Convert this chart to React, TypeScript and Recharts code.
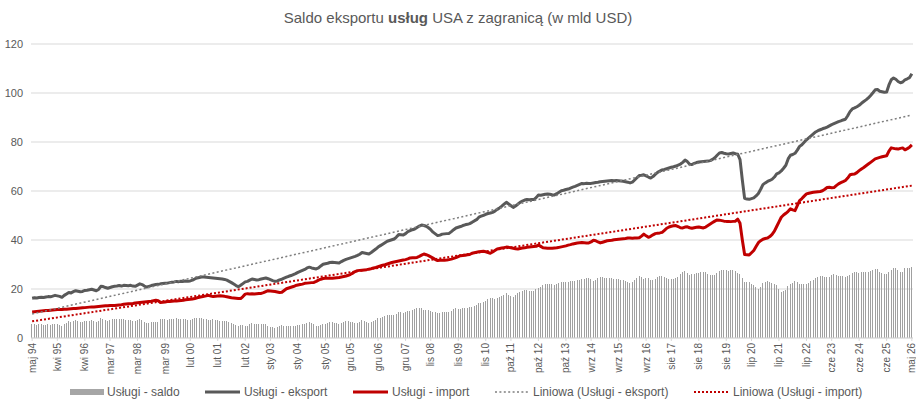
import React from 'react';
import { ComposedChart, Bar, Line, XAxis, YAxis, CartesianGrid } from 'recharts';

// Monthly values, May 1994 .. May 2026, one row = 12 months starting in May
const EXPORT = [
  16.2, 16.4, 16.3, 16.5, 16.6, 16.5, 16.7, 16.9, 16.8, 17.1, 17.4, 17.2,
  17.0, 16.6, 17.4, 18.0, 18.6, 18.4, 18.9, 19.3, 19.1, 18.9, 19.0, 19.4,
  19.5, 19.7, 19.9, 19.6, 19.3, 19.8, 21.1, 21.0, 20.6, 20.3, 20.6, 20.9,
  21.1, 21.2, 21.4, 21.2, 21.5, 21.4, 21.3, 21.5, 21.2, 21.1, 21.6, 22.1,
  21.8, 21.2, 20.8, 21.1, 21.4, 21.6, 21.8, 21.9, 22.1, 22.2, 22.3, 22.4,
  22.6, 22.8, 22.9, 23.1, 23.0, 23.2, 23.1, 23.3, 23.2, 23.3, 23.6, 24.1,
  24.5, 24.7, 24.9, 24.9, 24.8, 24.7, 24.6, 24.5, 24.4, 24.3, 24.2, 24.1,
  23.9, 23.6, 23.1, 22.6, 22.0, 21.4, 20.9, 21.5, 22.2, 22.9, 23.1, 23.6,
  24.1, 23.9, 23.7, 23.8, 24.1, 24.3, 24.5, 24.2, 23.8, 23.4, 23.1, 23.3,
  23.7, 24.0, 24.4, 24.8, 25.2, 25.5, 25.9, 26.3, 26.8, 27.2, 27.6, 28.0,
  28.6, 28.9, 28.6, 28.4, 28.2, 28.6, 29.4, 30.1, 30.3, 30.5, 30.8, 30.9,
  30.8, 30.7, 30.6, 31.2, 31.7, 32.1, 32.4, 32.7, 33.0, 33.3, 33.7, 34.2,
  34.9, 34.7, 34.5, 34.3, 34.9, 35.6, 36.3, 37.1, 37.7, 38.3, 38.9, 39.5,
  39.8, 40.1, 40.4, 41.2, 42.2, 42.1, 42.0, 42.6, 43.4, 43.8, 44.2, 44.5,
  45.1, 45.7, 46.1, 45.9, 45.6, 45.0, 44.2, 43.2, 42.5, 41.8, 42.0, 42.4,
  42.5, 42.6, 42.7, 43.4, 44.2, 44.9, 45.2, 45.5, 45.9, 46.2, 46.4, 46.7,
  47.2, 47.8, 48.3, 49.3, 49.7, 50.1, 50.5, 50.8, 51.0, 51.3, 51.8, 52.5,
  53.1, 53.8, 54.6, 55.4, 54.7, 54.0, 53.3, 53.9, 54.6, 55.4, 55.9, 56.3,
  56.5, 56.4, 56.5, 56.5, 57.3, 58.4, 58.3, 58.5, 58.7, 58.8, 58.7, 58.5,
  58.4, 58.9, 59.5, 60.1, 60.3, 60.6, 60.8, 61.2, 61.6, 61.9, 62.3, 62.7,
  63.1, 63.0, 63.2, 63.1, 63.1, 63.3, 63.5, 63.6, 63.8, 63.9, 64.0, 64.1,
  64.2, 64.3, 64.2, 64.3, 64.2, 64.1, 64.0, 63.8, 63.6, 63.3, 63.6, 64.5,
  65.4, 66.3, 66.4, 66.6, 66.2, 65.7, 65.3, 65.9, 66.8, 67.6, 68.1, 68.6,
  68.8, 69.1, 69.4, 69.7, 69.9, 70.2, 70.6, 71.0, 71.7, 72.6, 72.0, 70.9,
  70.8, 71.3, 71.6, 71.8, 71.9, 72.0, 72.1, 72.2, 72.4, 72.9, 73.6, 74.6,
  75.5, 75.7, 75.4, 75.2, 75.1, 75.3, 75.5, 75.2, 75.0, 72.8, 64.5, 57.0,
  56.7, 56.6, 56.9, 57.2, 58.0, 59.0, 60.7, 62.6, 63.3, 63.9, 64.3, 64.8,
  65.7, 67.0, 67.4, 68.2, 69.3, 70.5, 73.1, 74.6, 74.9, 75.4, 76.7, 78.2,
  78.9, 79.9, 80.9, 81.7, 82.5, 83.3, 84.1, 84.6, 85.0, 85.4, 85.7, 86.1,
  86.6, 87.1, 87.5, 87.9, 88.3, 88.6, 89.0, 89.3, 90.7, 92.4, 93.5, 93.9,
  94.4, 95.0, 95.8, 96.5, 97.2, 98.0, 99.0, 100.1, 101.3, 101.4, 100.7, 100.5,
  100.3, 100.4, 103.3, 105.4, 106.1, 105.6, 104.7, 104.2, 104.5, 105.4, 105.8, 106.3,
  107.9,
];

const IMPORT = [
  10.6, 10.7, 10.8, 10.9, 11.0, 11.1, 11.2, 11.2, 11.3, 11.4, 11.5, 11.6,
  11.6, 11.6, 11.7, 11.7, 11.8, 11.9, 12.0, 12.0, 12.1, 12.2, 12.3, 12.4,
  12.5, 12.6, 12.7, 12.7, 12.8, 12.9, 13.0, 13.1, 13.2, 13.2, 13.3, 13.3,
  13.3, 13.4, 13.5, 13.6, 13.8, 13.9, 14.0, 14.0, 14.1, 14.3, 14.4, 14.5,
  14.6, 14.7, 14.8, 14.9, 15.0, 15.2, 15.4, 15.2, 14.5, 14.6, 14.7, 14.9,
  14.9, 15.0, 15.1, 15.1, 15.2, 15.3, 15.4, 15.6, 15.7, 15.8, 15.9, 16.1,
  16.4, 16.6, 16.8, 17.0, 17.2, 17.4, 17.1, 16.9, 17.0, 17.1, 17.2, 17.1,
  17.0, 16.8, 16.6, 16.4, 16.3, 16.2, 16.1, 16.1, 16.9, 17.9, 18.1, 18.0,
  18.1, 18.0, 18.1, 18.2, 18.2, 18.5, 18.9, 19.3, 19.2, 19.1, 19.0, 18.8,
  18.6, 18.7, 19.4, 20.1, 20.4, 20.7, 21.0, 21.4, 21.6, 21.8, 22.0, 22.3,
  22.4, 22.5, 22.6, 22.7, 23.1, 23.6, 24.0, 24.3, 24.4, 24.4, 24.4, 24.4,
  24.5, 24.6, 24.7, 24.9, 25.1, 25.3, 25.6, 26.0, 26.5, 27.1, 27.5, 27.6,
  27.7, 27.8, 27.9, 28.1, 28.3, 28.6, 28.8, 29.1, 29.4, 29.7, 29.9, 30.2,
  30.5, 30.8, 31.0, 31.2, 31.4, 31.6, 31.8, 32.0, 32.3, 32.7, 32.8, 32.8,
  32.9, 33.3, 33.8, 34.3, 34.0, 33.6, 33.1, 32.6, 32.0, 31.6, 31.7, 31.7,
  31.7, 31.8, 32.0, 32.2, 32.5, 32.8, 33.2, 33.6, 33.7, 33.8, 34.0, 34.1,
  34.6, 34.8, 35.0, 35.2, 35.3, 35.4, 35.2, 34.9, 34.6, 35.1, 35.7, 36.3,
  36.5, 36.7, 36.9, 37.1, 37.0, 36.8, 36.6, 36.4, 36.3, 36.5, 36.7, 36.8,
  37.0, 37.1, 37.2, 37.3, 37.4, 38.0, 37.4, 36.8, 36.7, 36.6, 36.6, 36.6,
  36.7, 36.8, 37.0, 37.2, 37.4, 37.6, 37.9, 38.1, 38.4, 38.6, 38.8, 38.9,
  39.0, 38.9, 38.8, 38.8, 39.2, 39.9, 39.7, 39.2, 38.8, 39.1, 39.4, 39.7,
  39.8, 39.9, 40.1, 40.2, 40.3, 40.4, 40.5, 40.6, 40.8, 40.8, 40.7, 40.8,
  40.8, 40.9, 41.6, 42.4, 41.7, 41.1, 41.5, 42.1, 42.6, 42.8, 42.9, 43.1,
  43.9, 44.8, 45.3, 45.6, 45.8, 45.9, 45.5, 45.0, 44.9, 45.3, 45.4, 45.0,
  44.8, 45.0, 45.2, 45.3, 45.1, 44.9, 45.3, 45.9, 46.5, 47.1, 47.7, 48.2,
  48.1, 47.9, 47.7, 47.6, 47.6, 47.5, 47.6, 47.7, 48.5, 46.8, 40.0, 34.1,
  34.0, 33.9, 34.8, 35.7, 37.3, 38.9, 39.7, 40.3, 40.6, 40.8, 41.4, 42.3,
  43.6, 45.5, 47.4, 49.3, 50.2, 50.9, 51.7, 52.7, 52.3, 52.0, 54.0, 56.1,
  56.9, 57.9, 58.8, 59.1, 59.3, 59.5, 59.6, 59.7, 59.8, 60.1, 60.7, 61.4,
  61.5, 61.3, 61.4, 62.2, 62.9, 63.4, 63.8, 64.3, 65.3, 66.6, 66.8, 66.9,
  67.5, 68.3, 69.0, 69.6, 70.3, 71.0, 71.7, 72.4, 73.1, 73.4, 73.7, 74.0,
  74.2, 74.4, 76.3, 77.6, 77.4, 77.2, 77.1, 77.4, 77.6, 76.8, 77.3, 77.9,
  78.8,
];

const SALDO = [
  5.6, 5.7, 5.5, 5.6, 5.6, 5.4, 5.5, 5.7, 5.5, 5.7, 5.9, 5.6,
  5.4, 5.0, 5.7, 6.3, 6.8, 6.5, 6.9, 7.3, 7.0, 6.7, 6.7, 7.0,
  7.0, 7.1, 7.2, 6.9, 6.5, 6.9, 8.1, 7.9, 7.4, 7.1, 7.3, 7.6,
  7.8, 7.8, 7.9, 7.6, 7.7, 7.5, 7.3, 7.5, 7.1, 6.8, 7.2, 7.6,
  7.2, 6.5, 6.0, 6.2, 6.4, 6.4, 6.4, 6.7, 7.6, 7.6, 7.6, 7.5,
  7.7, 7.8, 7.8, 8.0, 7.8, 7.9, 7.7, 7.7, 7.5, 7.5, 7.7, 8.0,
  8.1, 8.1, 8.1, 7.9, 7.6, 7.3, 7.5, 7.6, 7.4, 7.2, 7.0, 7.0,
  6.9, 6.8, 6.5, 6.2, 5.7, 5.2, 4.8, 5.4, 5.3, 5.0, 5.0, 5.6,
  6.0, 5.9, 5.6, 5.6, 5.9, 5.8, 5.6, 4.9, 4.6, 4.3, 4.1, 4.5,
  5.1, 5.3, 5.0, 4.7, 4.8, 4.8, 4.9, 4.9, 5.2, 5.4, 5.6, 5.7,
  6.2, 6.4, 6.0, 5.7, 5.1, 5.0, 5.4, 5.8, 5.9, 6.1, 6.4, 6.5,
  6.3, 6.1, 5.9, 6.3, 6.6, 6.8, 6.8, 6.7, 6.5, 6.2, 6.2, 6.6,
  7.2, 6.9, 6.6, 6.2, 6.6, 7.0, 7.5, 8.0, 8.3, 8.6, 9.0, 9.3,
  9.3, 9.3, 9.4, 10.0, 10.8, 10.5, 10.2, 10.6, 11.1, 11.1, 11.4, 11.7,
  12.2, 12.4, 12.3, 11.6, 11.6, 11.4, 11.1, 10.6, 10.5, 10.2, 10.3, 10.7,
  10.8, 10.8, 10.7, 11.2, 11.7, 12.1, 12.0, 11.9, 12.2, 12.4, 12.4, 12.6,
  12.6, 13.0, 13.3, 14.1, 14.4, 14.7, 15.3, 15.9, 16.4, 16.2, 16.1, 16.2,
  16.6, 17.1, 17.7, 18.3, 17.7, 17.2, 16.7, 17.5, 18.3, 18.9, 19.2, 19.5,
  19.5, 19.3, 19.3, 19.2, 19.9, 20.4, 20.9, 21.7, 22.0, 22.2, 22.1, 21.9,
  21.7, 22.1, 22.5, 22.9, 22.9, 23.0, 22.9, 23.1, 23.2, 23.3, 23.5, 23.8,
  24.1, 24.1, 24.4, 24.3, 23.9, 23.4, 23.8, 24.4, 25.0, 24.8, 24.6, 24.4,
  24.4, 24.4, 24.1, 24.1, 23.9, 23.7, 23.5, 23.2, 22.8, 22.5, 22.9, 23.7,
  24.6, 25.4, 24.8, 24.2, 24.5, 24.6, 23.8, 23.8, 24.2, 24.8, 25.2, 25.5,
  24.9, 24.3, 24.1, 24.1, 24.1, 24.3, 25.1, 26.0, 26.8, 27.3, 26.6, 25.9,
  26.0, 26.3, 26.4, 26.5, 26.8, 27.1, 26.8, 26.3, 25.9, 25.8, 25.9, 26.4,
  27.4, 27.8, 27.7, 27.6, 27.5, 27.8, 27.9, 27.5, 26.5, 26.0, 24.5, 22.9,
  22.7, 22.7, 22.1, 21.5, 20.7, 20.1, 21.0, 22.3, 22.7, 23.1, 22.9, 22.5,
  22.1, 21.5, 20.0, 18.9, 19.1, 19.6, 21.4, 21.9, 22.6, 23.4, 22.7, 22.1,
  22.0, 22.0, 22.1, 22.6, 23.2, 23.8, 24.5, 24.9, 25.2, 25.3, 25.0, 24.7,
  25.1, 25.8, 26.1, 25.7, 25.4, 25.2, 25.2, 25.0, 25.4, 25.8, 26.7, 27.0,
  26.9, 26.7, 26.8, 26.9, 26.9, 27.0, 27.3, 27.7, 28.2, 28.0, 27.0, 26.5,
  26.1, 26.0, 27.0, 27.8, 28.7, 28.4, 27.6, 26.8, 26.9, 28.6, 28.5, 28.4,
  29.1,
];

// linear trend lines: value at first and last month
const TREND_EXPORT = [9.8, 91.0];
const TREND_IMPORT = [6.8, 62.2];

const MONTH_NAMES = ['sty', 'lut', 'mar', 'kwi', 'maj', 'cze', 'lip', 'sie', 'wrz', 'paź', 'lis', 'gru'];

const X_TICKS = [
  'maj 94', 'kwi 95', 'kwi 96', 'mar 97', 'mar 98', 'mar 99', 'lut 00', 'lut 01', 'lut 02',
  'sty 03', 'sty 04', 'sty 05', 'gru 05', 'gru 06', 'gru 07', 'lis 08', 'lis 09', 'lis 10',
  'paź 11', 'paź 12', 'paź 13', 'wrz 14', 'wrz 15', 'wrz 16', 'sie 17', 'sie 18', 'sie 19',
  'lip 20', 'lip 21', 'lip 22', 'cze 23', 'cze 24', 'cze 25', 'maj 26',
];
const Y_TICKS = [0, 20, 40, 60, 80, 100, 120];

const FONT = '"Liberation Sans", Arial, sans-serif';
const TEXT = '#595959';

const last = EXPORT.length - 1;
const data = EXPORT.map((v, i) => {
  const k = 4 + i; // start in May 1994
  const yy = String((1994 + Math.floor(k / 12)) % 100).padStart(2, '0');
  return {
    m: `${MONTH_NAMES[k % 12]} ${yy}`,
    eksport: v,
    import: IMPORT[i],
    saldo: SALDO[i],
    trendE: i === 0 ? TREND_EXPORT[0] : i === last ? TREND_EXPORT[1] : null,
    trendI: i === 0 ? TREND_IMPORT[0] : i === last ? TREND_IMPORT[1] : null,
  };
});

const MonthTick = (props: any) => {
  const { x, y, payload } = props;
  return (
    <text
      transform={`translate(${x},${y}) rotate(-90)`}
      textAnchor="end"
      dy="0.35em"
      fontSize={10}
      fontFamily={FONT}
      fill={TEXT}
    >
      {payload.value}
    </text>
  );
};

// thin crisp 1px bars like the original
const ThinBar = (props: any) => {
  const { x, y, width, height } = props;
  if (!height || height <= 0) return null;
  const cx = x + width / 2;
  return <rect x={Math.round(cx - 0.5)} y={y} width={1} height={height} fill="#A0A0A0" shapeRendering="crispEdges" />;
};

const legendText: React.CSSProperties = {
  position: 'absolute',
  top: 384,
  lineHeight: '16px',
  fontSize: 12,
  color: TEXT,
  whiteSpace: 'nowrap',
};

const Swatch = ({ left, color, dash, width }: { left: number; color: string; dash?: string; width: number }) => (
  <svg style={{ position: 'absolute', left, top: 387 }} width={35} height={10}>
    <line x1={0} y1={5} x2={35} y2={5} stroke={color} strokeWidth={width} strokeDasharray={dash} />
  </svg>
);

export default function App() {
  return (
    <div style={{ position: 'relative', width: 916, height: 408, background: '#fff', fontFamily: FONT }}>
      <style>{'body{margin:0}'}</style>
      <div
        style={{
          position: 'absolute', top: 8, left: 0, width: 916, textAlign: 'center',
          fontSize: 15, lineHeight: '20px', color: TEXT,
        }}
      >
        Saldo eksportu <b>usług</b> USA z zagranicą (w mld USD)
      </div>

      <div style={{ position: 'absolute', top: 0, left: 0 }}>
        <ComposedChart
          width={916}
          height={380}
          data={data}
          margin={{ top: 44, right: 3, bottom: 2, left: 0 }}
          barCategoryGap="20%"
        >
          <CartesianGrid vertical={false} stroke="#D9D9D9" />
          <XAxis
            dataKey="m"
            ticks={X_TICKS}
            interval={0}
            height={40}
            tick={<MonthTick />}
            tickSize={3}
            tickLine={{ stroke: '#D9D9D9' }}
            axisLine={{ stroke: '#D9D9D9' }}
          />
          <YAxis
            domain={[0, 120]}
            ticks={Y_TICKS}
            width={31}
            axisLine={false}
            tickLine={false}
            tick={{ fontSize: 11, fill: TEXT, fontFamily: FONT }}
          />
          <Bar dataKey="saldo" fill="#A0A0A0" shape={<ThinBar />} isAnimationActive={false} />
          <Line
            dataKey="eksport" type="linear" stroke="#595959" strokeWidth={3}
            dot={false} activeDot={false} strokeLinejoin="round" isAnimationActive={false}
          />
          <Line
            dataKey="import" type="linear" stroke="#C00000" strokeWidth={3}
            dot={false} activeDot={false} strokeLinejoin="round" isAnimationActive={false}
          />
          <Line
            dataKey="trendE" type="linear" connectNulls stroke="#7F7F7F" strokeWidth={1.5}
            strokeDasharray="2 2.4" dot={false} activeDot={false} isAnimationActive={false}
          />
          <Line
            dataKey="trendI" type="linear" connectNulls stroke="#C00000" strokeWidth={2}
            strokeDasharray="2 2" dot={false} activeDot={false} isAnimationActive={false}
          />
        </ComposedChart>
      </div>

      {/* Legend */}
      <div style={{ position: 'absolute', left: 70, top: 389, width: 34, height: 6, background: '#A6A6A6' }} />
      <div style={{ ...legendText, left: 107 }}>Usługi - saldo</div>
      <Swatch left={205} color="#595959" width={3} />
      <div style={{ ...legendText, left: 244 }}>Usługi - eksport</div>
      <Swatch left={353} color="#C00000" width={3} />
      <div style={{ ...legendText, left: 392 }}>Usługi - import</div>
      <Swatch left={495} color="#7F7F7F" width={1.5} dash="2 2.4" />
      <div style={{ ...legendText, left: 533 }}>Liniowa (Usługi - eksport)</div>
      <Swatch left={694} color="#C00000" width={2} dash="2 2" />
      <div style={{ ...legendText, left: 733 }}>Liniowa (Usługi - import)</div>
    </div>
  );
}
